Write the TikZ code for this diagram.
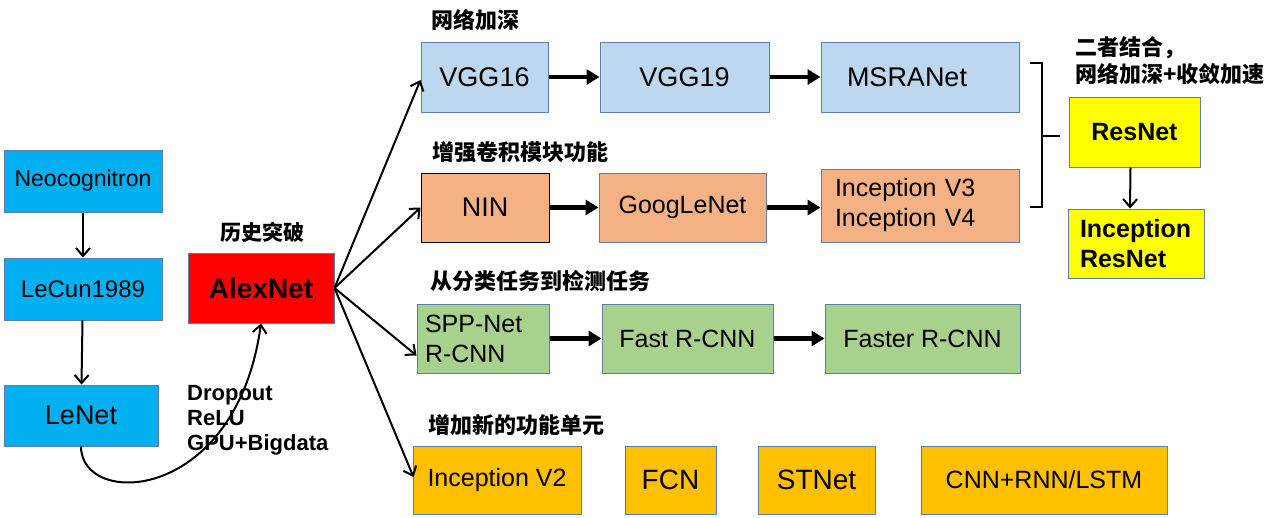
\documentclass[tikz,border=0pt]{standalone}
\usepackage{fontspec}
\setmainfont{Liberation Sans}
\newfontfamily\cjk{Noto Sans CJK SC}
\usepackage{xcolor}
\usetikzlibrary{arrows.meta, calc}

\definecolor{cyanbox}{HTML}{00B0F0}
\definecolor{deepbox}{HTML}{BDD7EE}
\definecolor{convbox}{HTML}{F4B183}
\definecolor{detbox}{HTML}{A9D18E}
\definecolor{unitbox}{HTML}{FFC000}
\definecolor{resbox}{HTML}{FFFF00}
\definecolor{boxline}{HTML}{5B7FA8}

\begin{document}
\begin{tikzpicture}[x=1pt, y=-1pt,
    netbox/.style={draw=boxline, line width=1pt, inner sep=0pt, font=\fontsize{25}{30}\selectfont},
    title/.style={font=\cjk\bfseries\fontsize{22}{27}\selectfont, anchor=west, inner sep=0pt},
    thinarrow/.style={line width=2pt, -{Straight Barb[length=8pt, width=14pt]}},
    bigarrow/.style={line width=4.5pt, -{Triangle[length=13pt, width=15pt]}}]
\useasboundingbox (0,0) rectangle (1279,517);

% Early networks
\node[netbox, fill=cyanbox, minimum width=158, minimum height=62, font=\fontsize{23}{26}\selectfont] (neo) at (83,181) {Neocognitron};
\node[netbox, fill=cyanbox, minimum width=158, minimum height=62, font=\fontsize{24}{28}\selectfont] (lecun) at (83,289) {LeCun1989};
\node[netbox, fill=cyanbox, minimum width=154, minimum height=61, font=\fontsize{27}{30}\selectfont] (lenet) at (81,415.5) {LeNet};
\node[netbox, fill=red, minimum width=146, minimum height=70, font=\bfseries\fontsize{28}{30}\selectfont] (alexnet) at (261,288) {AlexNet};
\node[font=\cjk\bfseries\fontsize{21}{25}\selectfont, inner sep=0pt] (breakt) at (262,232) {历史突破};
\node[anchor=west, align=left, inner sep=0pt, font=\bfseries\fontsize{22}{25}\selectfont] (tricks) at (187,420) {Dropout\\ReLU\\GPU+Bigdata};

\draw[thinarrow] (neo) -- (lecun);
\draw[thinarrow] (lecun) -- (lenet);
\draw[thinarrow] (lenet.south) .. controls +(0,62) and +(-25,180) .. (alexnet.south);

% Deeper networks
\node[title] (deept) at (431,20) {网络加深};
\node[netbox, fill=deepbox, minimum width=127, minimum height=70, font=\fontsize{27}{30}\selectfont] (vgg16) at (484.5,77) {VGG16};
\node[netbox, fill=deepbox, minimum width=169, minimum height=70, font=\fontsize{27}{30}\selectfont] (vgg19) at (684.5,77) {VGG19};
\node[netbox, fill=deepbox, minimum width=198, minimum height=70, font=\fontsize{27}{30}\selectfont] (msra) at (920,77) {\hspace*{-26pt}MSRANet};
\draw[bigarrow] (vgg16) -- (vgg19);
\draw[bigarrow] (vgg19) -- (msra);

% Stronger conv modules
\node[title] (convt) at (432,152) {增强卷积模块功能};
\node[netbox, draw=black, fill=convbox, minimum width=128, minimum height=69, font=\fontsize{27}{30}\selectfont] (nin) at (485,207.5) {NIN};
\node[netbox, fill=convbox, minimum width=167, minimum height=69] (google) at (682.5,207.5) {GoogLeNet};
\node[netbox, fill=convbox, minimum width=198, minimum height=73, align=left, text width=170] (incv3) at (920,205.5) {Inception V3\\Inception V4};
\draw[bigarrow] (nin) -- (google);
\draw[bigarrow] (google) -- (google -| incv3.west);

% From classification to detection
\node[title] (dett) at (430,281) {从分类任务到检测任务};
\node[netbox, fill=detbox, minimum width=132, minimum height=69, align=left, text width=116] (spp) at (483,338.5) {SPP-Net\\R-CNN};
\node[netbox, fill=detbox, minimum width=171, minimum height=69] (fast) at (687.5,338.5) {Fast R-CNN};
\node[netbox, fill=detbox, minimum width=195, minimum height=69] (faster) at (922.5,338.5) {Faster R-CNN};
\draw[bigarrow] (spp) -- (fast);
\draw[bigarrow] (fast) -- (faster);

% New function units
\node[title] (unitt) at (428,425) {增加新的功能单元};
\node[netbox, fill=unitbox, minimum width=168, minimum height=68] (incv2) at (497,480) {Inception V2};
\node[netbox, fill=unitbox, minimum width=91, minimum height=68, font=\fontsize{28}{30}\selectfont] (fcn) at (670.5,480) {FCN};
\node[netbox, fill=unitbox, minimum width=117, minimum height=68, font=\fontsize{28}{30}\selectfont] (stnet) at (816.5,480) {STNet};
\node[netbox, fill=unitbox, minimum width=246, minimum height=68] (cnnrnn) at (1044,480) {CNN+RNN/LSTM};

% AlexNet fan-out
\draw[thinarrow] (alexnet.east) -- ($(vgg16.west)+(0,3)$);
\draw[thinarrow] (alexnet.east) -- (nin.west);
\draw[thinarrow] (alexnet.east) -- ($(spp.west)+(0,17)$);
\draw[thinarrow] (alexnet.east) -- ($(incv2.west)+(1,-3)$);

% Combination
\node[title, align=left] (combt) at (1075,61) {二者结合，\\网络加深+收敛加速};
\node[netbox, fill=resbox, minimum width=131, minimum height=70, font=\bfseries\fontsize{25}{30}\selectfont] (resnet) at (1134.5,132) {ResNet};
\node[netbox, fill=resbox, minimum width=136, minimum height=69, align=left, text width=112, font=\bfseries\fontsize{25}{30}\selectfont] (incres) at (1136,243.5) {Inception\\ResNet};
\draw[line width=2.5pt] (1030,63) -- (1042,63) -- (1042,207) -- (1030,207);
\draw[line width=2.5pt] (1042,136) -- (1060,136);
\draw[thinarrow] ($(resnet.south)+(-4,0)$) -- ($(incres.north)+(-6,0)$);

\end{tikzpicture}
\end{document}
